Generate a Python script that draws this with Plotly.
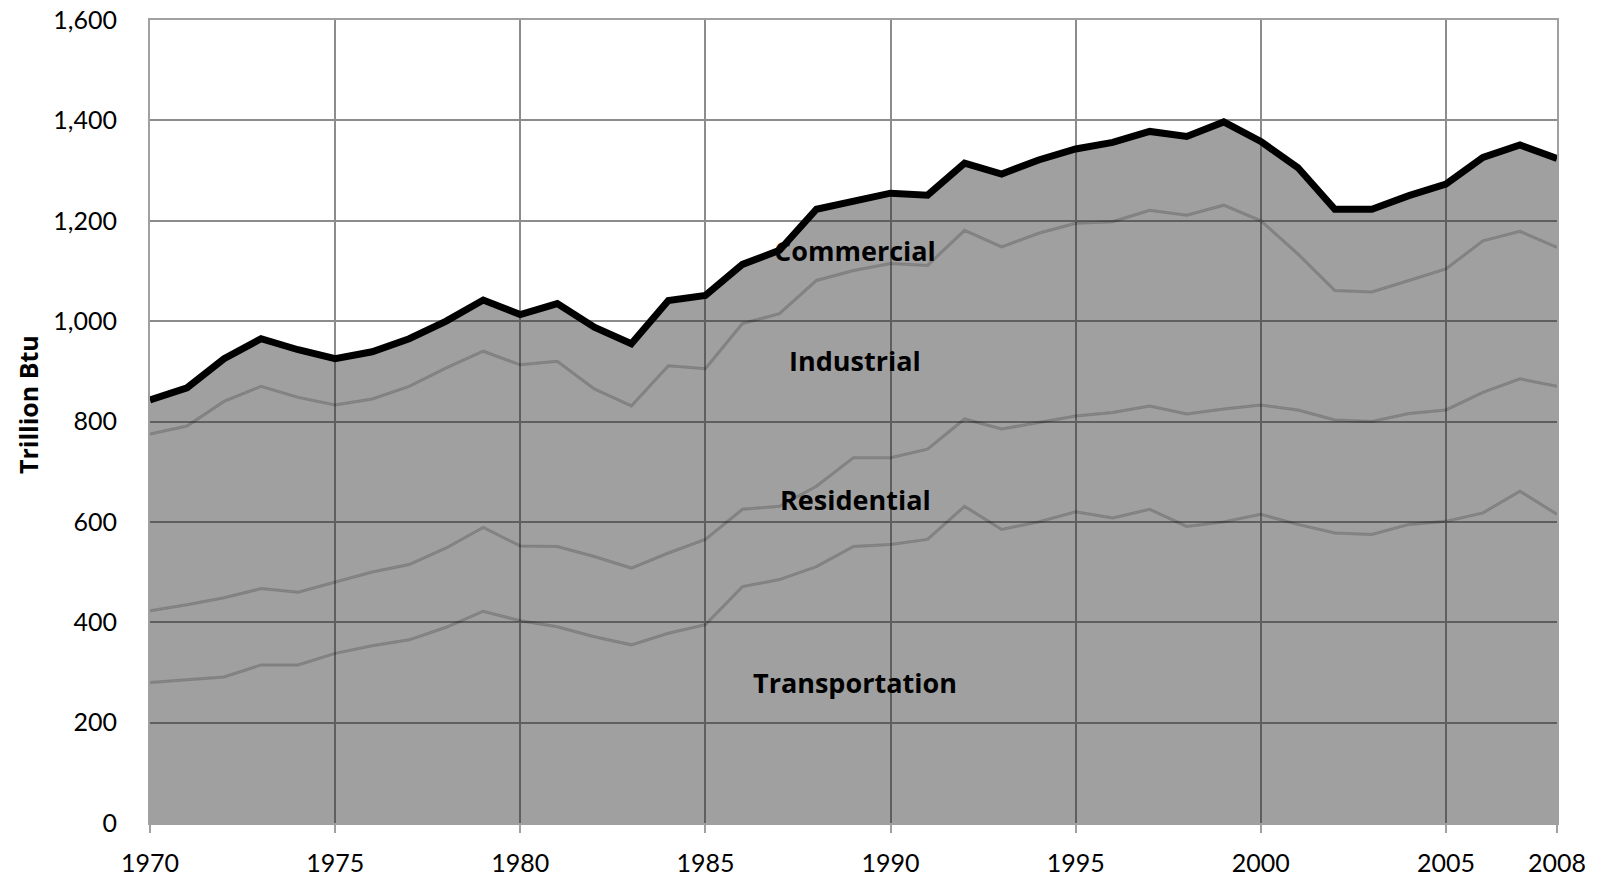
import plotly.graph_objects as go

years = list(range(1970, 2009))

transportation = [280, 285, 291, 315, 315, 338, 353, 365, 390, 422,
                  403, 391, 371, 355, 378, 395, 471, 485, 511, 551,
                  555, 565, 631, 585, 600, 620, 608, 625, 591, 600,
                  615, 595, 578, 575, 595, 601, 618, 661, 615]
residential = [143, 150, 158, 152, 145, 142, 147, 150, 158, 167,
               149, 160, 160, 153, 160, 170, 154, 146, 160, 177,
               173, 180, 174, 200, 198, 191, 210, 206, 224, 225,
               218, 228, 225, 225, 221, 222, 240, 224, 255]
industrial = [352, 356, 391, 403, 388, 353, 345, 355, 359, 351,
              361, 369, 334, 323, 373, 340, 370, 384, 410, 373,
              387, 366, 376, 363, 377, 384, 380, 390, 396, 406,
              367, 311, 258, 258, 265, 281, 302, 294, 277]
commercial = [68, 76, 85, 95, 95, 92, 94, 95, 93, 102,
              100, 115, 123, 124, 130, 146, 118, 126, 142, 139,
              140, 140, 134, 145, 146, 148, 158, 157, 157, 166,
              158, 172, 162, 165, 169, 169, 166, 172, 177]

series = [("Transportation", transportation),
          ("Residential", residential),
          ("Industrial", industrial),
          ("Commercial", commercial)]

label_x = 1989.05
label_y = {"Commercial": 1141, "Industrial": 922, "Residential": 645, "Transportation": 279}

x_ticks = [1970, 1975, 1980, 1985, 1990, 1995, 2000, 2005, 2008]
y_ticks = [0, 200, 400, 600, 800, 1000, 1200, 1400, 1600]

FILL = "rgba(37,37,37,0.435)"

fig = go.Figure()
for name, vals in series:
    top = name == "Commercial"
    fig.add_trace(go.Scatter(
        x=years, y=vals, name=name, mode="lines",
        stackgroup="one", fillcolor=FILL,
        line=dict(color="black" if top else "rgba(0,0,0,0.2)",
                  width=7 if top else 3),
        showlegend=False, hoverinfo="skip",
    ))

for name, yv in label_y.items():
    fig.add_annotation(x=label_x, y=yv, text=name, showarrow=False,
                       xanchor="center", yanchor="middle",
                       font=dict(family="Open Sans", size=27, color="black", weight="bold"))

fig.add_annotation(xref="paper", yref="paper", x=-0.0867, y=0.5205,
                   text="Trillion Btu", textangle=-90, showarrow=False,
                   xanchor="center", yanchor="middle",
                   font=dict(family="Open Sans", size=25, color="black", weight="bold"))

fig.update_xaxes(range=[1970, 2008], tickvals=x_ticks, ticktext=[str(v) for v in x_ticks],
                 showgrid=True, gridcolor="#8c8c8c", gridwidth=1.5,
                 showline=True, linecolor="#a0a0a0", linewidth=2, mirror=True,
                 ticks="outside", ticklen=8, tickcolor="#a0a0a0", tickwidth=1.5,
                 ticklabelstandoff=9, automargin=False, ticklabeloverflow="allow",
                 tickfont=dict(family="Lato", size=25, color="black"), zeroline=False)
fig.update_yaxes(range=[0, 1600], tickvals=y_ticks, tickformat=",",
                 showgrid=True, gridcolor="#8c8c8c", gridwidth=1.5,
                 showline=True, linecolor="#a0a0a0", linewidth=2, mirror=True,
                 ticks="", ticklabelstandoff=26, automargin=False, ticklabeloverflow="allow",
                 tickfont=dict(family="Lato", size=25, color="black"), zeroline=False)

fig.update_layout(
    width=1606, height=878,
    margin=dict(l=150, r=49, t=20, b=55),
    paper_bgcolor="white", plot_bgcolor="white",
)

# remove the browser's default body margin so the figure sits at the window's corner
fig.write_html("out.html", config={"displayModeBar": False},
               post_script="document.body.style.margin='0';document.body.style.overflow='hidden';")
